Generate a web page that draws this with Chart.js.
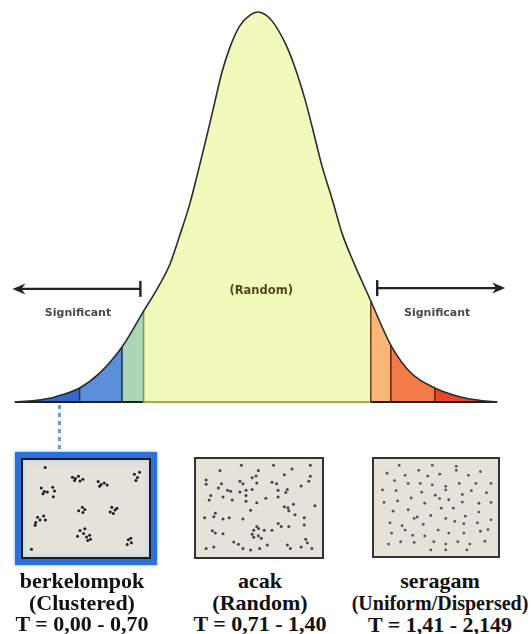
<!DOCTYPE html>
<html>
<head>
<meta charset="utf-8">
<script src="https://cdn.jsdelivr.net/npm/chart.js@4.4.0/dist/chart.umd.min.js"></script>
<style>
  html, body { margin: 0; padding: 0; background: #fff; }
  body { width: 531px; height: 634px; position: relative; overflow: hidden; }
  #curve-wrap { position: absolute; left: 0; top: 0; width: 531px; height: 420px; }
  .dotted { position: absolute; left: 58px; top: 405px; width: 3px; height: 44px;
    background: repeating-linear-gradient(to bottom, #6b9bd8 0 4px, transparent 4px 8px); }
  .box { position: absolute; box-sizing: border-box; background: #e4e2da; }
  .box .plot { position: relative; }
  #box1 { left: 15px; top: 452px; width: 142px; height: 113px; border: 6px solid #2f6fd8;
    box-shadow: 0 0 3px #6f9ee6; }
  #box1 .inner { border: 2px solid #1b1b1b; box-shadow: inset 0 0 6px #b9d3ee; }
  #box2 { left: 194px; top: 457px; width: 130px; height: 102px; border: 2px solid #333; }
  #box3 { left: 372px; top: 457px; width: 128px; height: 101px; border: 2px solid #333; }
  .label { position: absolute; top: 570px; transform: translateX(-50%); text-align: center;
    white-space: nowrap; font: bold 22px "Liberation Serif", "Times New Roman", serif;
    line-height: 21.5px; color: #111; }
  .small { font-size: 20px; }
</style>
</head>
<body>
<div id="curve-wrap"><canvas id="curve-chart"></canvas></div>
<div class="dotted"></div>

<div class="box" id="box1"><div class="inner"><div class="plot" style="width:126px;height:97px"><canvas id="clustered-chart"></canvas></div></div></div>
<div class="box" id="box2"><div class="plot" style="width:126px;height:98px"><canvas id="random-chart"></canvas></div></div>
<div class="box" id="box3"><div class="plot" style="width:124px;height:97px"><canvas id="uniform-chart"></canvas></div></div>

<div class="label" style="left:82px">berkelompok<br>(Clustered)<br>T = 0,00 - 0,70</div>
<div class="label" style="left:260px">acak<br>(Random)<br>T = 0,71 - 1,40</div>
<div class="label" style="left:440px">seragam<br><span class="small">(Uniform/Dispersed)</span><br>T = 1,41 - 2,149</div>

<script>
// bell curve (z = position, h = relative height)
const curveZ = [-3.04, -2.79, -2.54, -2.23, -1.98, -1.70, -1.43, -1.26, -1.10, -0.98, -0.85, -0.75,
    -0.64, -0.54, -0.45, -0.35, -0.23, -0.10, 0,
    0.10, 0.18, 0.34, 0.46, 0.59, 0.69, 0.80, 0.93, 1.05, 1.21, 1.36, 1.41, 1.66, 1.90, 2.21,
    2.53, 2.78, 2.99];
const curveH = [0, 0.004, 0.013, 0.036, 0.074, 0.141, 0.233, 0.290, 0.354, 0.426, 0.510, 0.590,
    0.682, 0.769, 0.846, 0.910, 0.964, 0.992, 1,
    0.992, 0.976, 0.920, 0.859, 0.774, 0.695, 0.605, 0.518, 0.433, 0.351, 0.282, 0.259, 0.146, 0.077, 0.036,
    0.013, 0.004, 0];

// region boundaries along the curve
const regionEdges = [-3.04, -2.23, -1.70, -1.43, 1.41, 1.66, 2.21, 2.99];
const regionColors = ['#3568c9', '#5b8fda', '#a9d7b6', '#f1f9bb', '#fab676', '#f47a47', '#ea4628'];
const dividerColors = ['#1e2f55', '#1c2e52', '#7b9a44', '#6a3a14', '#5a2408', '#7a1d08'];

// point patterns in the three boxes (0-100 each way, y upward)
const clusteredX = [15.4, 38.5, 41.0, 43.6, 40.3, 44.9, 47.4, 60.3, 62.8, 65.4, 67.9, 61.5,
    91.0, 93.6, 92.3, 95.4, 12.1, 14.6, 13.6, 17.2, 21.8, 23.3, 22.3, 46.9, 43.8, 49.0, 47.4,
    71.8, 74.6, 73.1, 76.2, 70.5, 9.0, 7.4, 11.0, 14.1, 15.6, 6.9, 44.9, 47.9, 50.5, 53.1, 51.5,
    49.0, 42.8, 53.8, 85.9, 88.5, 84.9, 87.9, 3.8];
const clusteredY = [96.1, 85.2, 83.6, 86.2, 81.6, 81.0, 83.0, 80.3, 77.0, 78.7, 76.4, 75.1,
    88.5, 84.9, 81.6, 90.8, 73.1, 69.2, 66.6, 68.5, 73.8, 69.8, 63.3, 51.5, 47.5, 48.9, 45.6,
    51.5, 48.2, 44.3, 50.2, 46.2, 40.3, 34.4, 37.0, 41.6, 37.0, 31.1, 25.2, 22.0, 18.0, 20.0, 14.1,
    27.2, 18.7, 15.4, 14.8, 11.5, 9.5, 16.7, 4.3];

const randomX = [16.9, 35.1, 49.4, 62.3, 71.4, 77.9, 93.5, 93.5, 44.2, 47.5, 33.8, 36.4, 48.1, 61.0,
    64.9, 18.2, 5.2, 5.2, 15.6, 23.4, 26.0, 33.8, 39.0, 44.2, 66.2, 74.0, 72.7, 85.7, 92.2, 9.1,
    7.8, 19.5, 27.3, 39.0, 39.0, 48.1, 55.8, 66.2, 71.4, 74.5, 75.3, 79.2, 80.5, 88.3, 97.4, 42.9,
    13.0, 11.7, 3.9, 19.5, 24.7, 36.4, 48.1, 49.6, 45.5, 54.5, 61.0, 66.2, 68.8, 75.3, 88.3, 10.4,
    13.0, 19.5, 44.2, 45.5, 49.4, 51.9, 89.6, 90.9, 28.6, 32.5, 57.1, 5.2, 11.7, 36.4, 42.9, 50.6,
    74.0, 76.6, 85.7, 94.8];
const randomY = [91.8, 97.4, 91.8, 97.4, 86.9, 93.4, 85.2, 97.4, 83.6, 85.6, 79.7, 77.0, 77.7, 78.7,
    77.0, 77.0, 81.0, 76.4, 72.1, 69.8, 68.5, 67.9, 69.8, 70.5, 69.8, 70.5, 67.2, 74.4, 79.7, 63.9,
    59.0, 62.3, 59.0, 63.9, 57.4, 55.7, 60.7, 62.3, 51.5, 50.2, 46.9, 54.1, 42.6, 39.3, 52.5, 47.5,
    44.3, 40.3, 39.3, 37.7, 39.3, 37.7, 29.5, 27.2, 25.2, 25.2, 25.2, 32.8, 29.5, 29.5, 31.1, 24.6,
    22.3, 21.3, 20.7, 17.4, 19.3, 16.4, 15.4, 11.5, 12.1, 9.8, 8.9, 4.9, 6.6, 4.9, 3.3, 4.9,
    8.9, 4.9, 6.6, 4.9];

const uniformX = [7.8, 23.4, 35.1, 42.9, 53.2, 67.5, 77.9, 88.3, 14.3, 26.0, 36.4, 46.8, 58.4, 70.1,
    84.4, 97.4, 3.9, 15.6, 37.7, 49.4, 58.4, 72.7, 80.5, 93.5, 5.2, 16.9, 28.6, 40.3, 53.2, 61.0,
    72.7, 87.0, 97.4, 13.0, 26.0, 33.8, 45.5, 54.5, 64.9, 75.3, 87.0, 97.4, 10.4, 20.8, 31.2, 39.0,
    51.9, 58.4, 66.2, 74.0, 85.7, 94.8, 11.7, 23.4, 29.9, 40.3, 61.0, 74.0, 88.3, 9.1, 19.5, 31.2,
    48.1, 58.4, 68.8, 79.2, 92.2, 45.5, 58.4, 76.6, 18.2, 46.8, 67.5];
const uniformY = [88.5, 86.2, 91.8, 85.2, 87.5, 91.8, 86.2, 90.2, 80.3, 77.0, 77.0, 75.4, 73.8, 77.0,
    77.0, 77.0, 69.8, 68.9, 67.2, 63.9, 69.8, 64.6, 68.9, 66.6, 55.7, 57.4, 60.7, 54.8, 60.0, 58.7,
    56.1, 54.8, 55.7, 45.9, 47.5, 39.3, 41.0, 49.2, 49.2, 40.3, 44.9, 36.1, 32.8, 29.5, 37.7, 31.1,
    24.6, 37.7, 34.4, 31.8, 32.8, 25.2, 21.3, 24.6, 18.7, 18.0, 21.3, 21.3, 23.3, 8.9, 11.5, 10.8,
    11.5, 8.9, 11.5, 8.9, 12.1, 2.3, 2.3, 2.3, 97.4, 97.4, 96.1];

// arrows and texts on the curve
const arrows = [
    { from: -1.47, to: -3.07, level: 0.29 },
    { from: 1.49, to: 3.09, level: 0.292 }
];
const curveTexts = [
    { text: 'Significant', z: -2.25, h: 0.228, color: '#4a4a4a', size: 11 },
    { text: 'Significant', z: 2.24, h: 0.228, color: '#4a4a4a', size: 11 },
    { text: '(Random)', z: 0.04, h: 0.285, color: '#4d4a1c', size: 11.5 }
];

const points = curveZ.map((z, i) => ({ x: z, y: curveH[i] }));
const heightAt = z => curveH[curveZ.indexOf(z)];

const datasets = [];
datasets.push({
    data: points, borderColor: '#2b2b2b', borderWidth: 1.6, fill: false,
    pointRadius: 0, cubicInterpolationMode: 'monotone', order: 0
});
for (let i = 0; i < regionColors.length; i++) {
    const a = regionEdges[i], b = regionEdges[i + 1];
    datasets.push({
        data: points.filter(p => p.x >= a && p.x <= b),
        backgroundColor: regionColors[i], borderWidth: 0, borderColor: 'transparent',
        fill: 'origin', pointRadius: 0, cubicInterpolationMode: 'monotone', order: 5
    });
}
regionEdges.slice(1, -1).forEach((e, i) => {
    datasets.push({
        data: [{ x: e, y: 0 }, { x: e, y: heightAt(e) }],
        borderColor: dividerColors[i], borderWidth: 1.5, fill: false, pointRadius: 0, order: 1
    });
});
// baseline, olive under the middle part
datasets.push({
    data: [{ x: regionEdges[0], y: 0 }, { x: -1.43, y: 0 }, { x: 1.41, y: 0 }, { x: regionEdges[7], y: 0 }],
    borderWidth: 2.2, pointRadius: 0, fill: false, order: 2,
    segment: { borderColor: ctx => ctx.p0DataIndex === 1 ? '#a2a94c' : '#1f1f1f' }
});

const overlayPlugin = {
    id: 'overlay',
    afterDatasetsDraw(chart) {
        const { ctx, scales: { x, y } } = chart;
        ctx.save();
        ctx.strokeStyle = '#222';
        ctx.fillStyle = '#222';
        ctx.lineWidth = 2.4;
        arrows.forEach(a => {
            const x0 = x.getPixelForValue(a.from), x1 = x.getPixelForValue(a.to);
            const py = y.getPixelForValue(a.level);
            const dir = Math.sign(x1 - x0);
            ctx.beginPath();
            ctx.moveTo(x0, py);
            ctx.lineTo(x1 - dir * 6, py);
            ctx.stroke();
            ctx.beginPath();
            ctx.moveTo(x0, py - 8);
            ctx.lineTo(x0, py + 8);
            ctx.stroke();
            ctx.beginPath();
            ctx.moveTo(x1, py);
            ctx.lineTo(x1 - dir * 13, py - 5.5);
            ctx.lineTo(x1 - dir * 9, py);
            ctx.lineTo(x1 - dir * 13, py + 5.5);
            ctx.closePath();
            ctx.fill();
        });
        ctx.textAlign = 'center';
        ctx.textBaseline = 'middle';
        curveTexts.forEach(t => {
            ctx.font = `bold ${t.size}px "DejaVu Sans", Verdana, sans-serif`;
            ctx.fillStyle = t.color;
            ctx.fillText(t.text, x.getPixelForValue(t.z), y.getPixelForValue(t.h));
        });
        ctx.restore();
    }
};

new Chart(document.getElementById('curve-chart'), {
    type: 'line',
    data: { datasets },
    options: {
        responsive: true,
        maintainAspectRatio: false,
        animation: false,
        events: [],
        layout: { padding: 0 },
        plugins: { legend: { display: false }, tooltip: { enabled: false } },
        scales: {
            x: { type: 'linear', min: -3.225, max: 3.4125, display: false },
            y: { min: -0.0462, max: 1.0308, display: false }
        }
    },
    plugins: [overlayPlugin]
});

function dotChart(id, xs, ys, color, radius) {
    new Chart(document.getElementById(id), {
        type: 'scatter',
        data: {
            datasets: [{
                data: xs.map((v, i) => ({ x: v, y: ys[i] })),
                backgroundColor: color, borderWidth: 0, pointRadius: radius, clip: false
            }]
        },
        options: {
            responsive: true,
            maintainAspectRatio: false,
            animation: false,
            events: [],
            layout: { padding: 0 },
            plugins: { legend: { display: false }, tooltip: { enabled: false } },
            scales: {
                x: { min: 0, max: 100, display: false },
                y: { min: 0, max: 100, display: false }
            }
        }
    });
}

dotChart('clustered-chart', clusteredX, clusteredY, '#1e1e1e', 1.5);
dotChart('random-chart', randomX, randomY, '#444', 1.5);
dotChart('uniform-chart', uniformX, uniformY, '#555', 1.4);
</script>
</body>
</html>
